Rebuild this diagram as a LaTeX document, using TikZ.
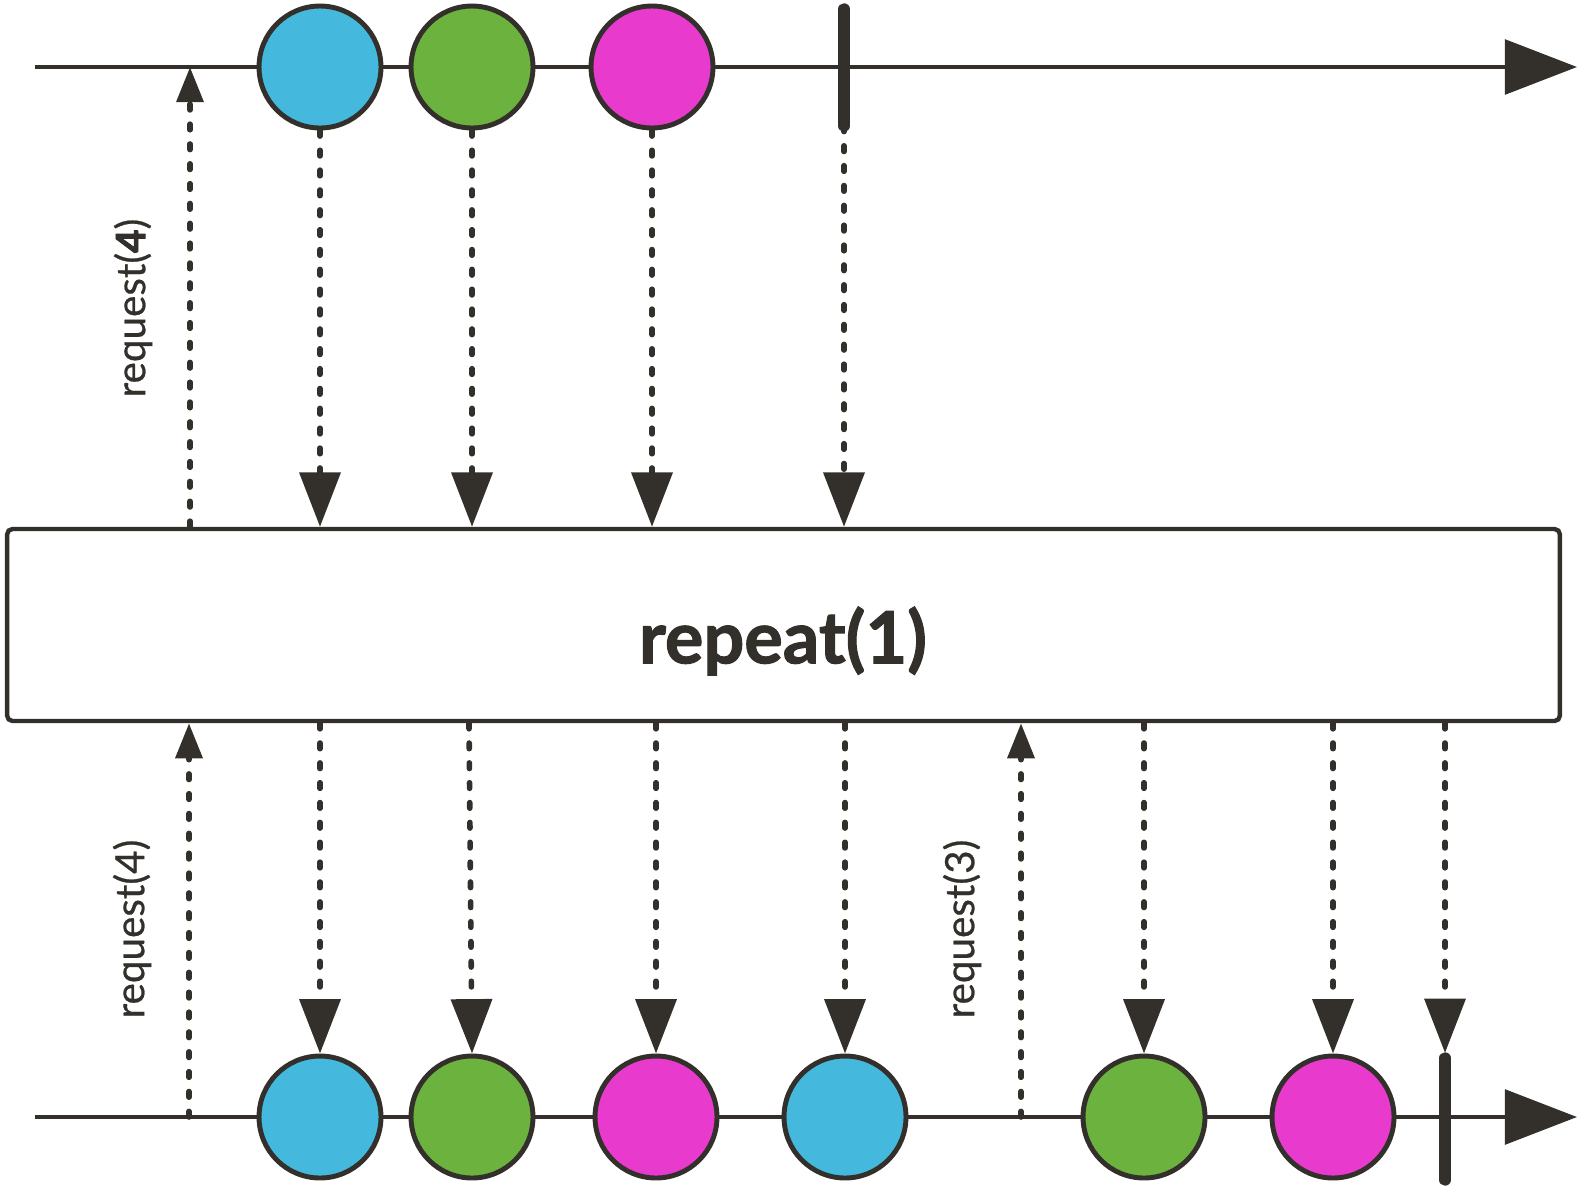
\documentclass[tikz,border=0pt]{standalone}
\usepackage{fontspec}
\setmainfont{Lato}
\usetikzlibrary{arrows.meta}
\definecolor{ink}{HTML}{33302C}
\definecolor{mblue}{HTML}{44B8DD}
\definecolor{mgreen}{HTML}{6BB23F}
\definecolor{mmag}{HTML}{E83ACD}
\tikzset{
  timeline/.style={draw=ink, line width=2.5pt, -{Triangle[length=41pt,width=31pt]}},
  marble/.style={circle, draw=ink, line width=2.8pt, minimum size=2.44cm, inner sep=0pt},
  endbar/.style={draw=ink, line width=6.5pt, line cap=round},
  dotline/.style={draw=ink, line width=3.2pt, line cap=round, dash pattern=on 3.2pt off 8.1pt},
  downarr/.style={dotline, -{Triangle[length=31pt,width=23pt]}},
  uparr/.style={dotline, -{Triangle[length=20pt,width=15pt]}},
  opbox/.style={draw=ink, line width=2.5pt, rounded corners=3pt, fill=white, minimum width=31.06cm, minimum height=3.84cm, inner sep=0pt},
  rlabel/.style={text=ink, font=\fontsize{23}{27}\selectfont\addfontfeature{FakeBold=0.6}, rotate=90, inner sep=0pt}
}
\begin{document}
\begin{tikzpicture}[x=0.02cm, y=-0.02cm]
\useasboundingbox (0,0) rectangle (1588,1187);
% top timeline
\coordinate (ts) at (35,67);
\coordinate (te) at (1577,67);
\draw[timeline] (ts) -- (te);
\node[marble, fill=mblue] (t1) at (320,67) {};
\node[marble, fill=mgreen] (t2) at (472,67) {};
\node[marble, fill=mmag] (t3) at (652,67) {};
\coordinate (tbt) at (844,9);
\coordinate (tbb) at (844,126);
\draw[endbar] (tbt) -- (tbb);
% operator box
\node[opbox] (box) at (783.5,625) {};
\node[text=ink, font=\fontsize{41}{46}\selectfont\bfseries\addfontfeature{FakeBold=1.5}] (op) at (783,641) {repeat(1)};
% top request
\coordinate (tr) at (190,67);
\draw[uparr] (box.north -| tr) -- (tr);
\node[rlabel] (l1) at (133,308) {request({\bfseries\addfontfeature{FakeBold=2}4})};
% top down arrows
\draw[downarr] (t1.south) -- (t1.south |- box.north);
\draw[downarr] (t2.south) -- (t2.south |- box.north);
\draw[downarr] (t3.south) -- (t3.south |- box.north);
\draw[downarr] (tbb) -- (tbb |- box.north);
% bottom timeline
\coordinate (bs) at (35,1117);
\coordinate (be) at (1577,1117);
\draw[timeline] (bs) -- (be);
\node[marble, fill=mblue] (b1) at (320,1117) {};
\node[marble, fill=mgreen] (b2) at (472,1117) {};
\node[marble, fill=mmag] (b3) at (656,1117) {};
\node[marble, fill=mblue] (b4) at (845,1117) {};
\node[marble, fill=mgreen] (b5) at (1144,1117) {};
\node[marble, fill=mmag] (b6) at (1333,1117) {};
\coordinate (bbt) at (1445,1058);
\coordinate (bbb) at (1445,1180);
\draw[endbar] (bbt) -- (bbb);
% bottom requests
\coordinate (br1) at (189,1117);
\coordinate (br2) at (1021,1117);
\draw[uparr] (br1) -- (br1 |- box.south);
\draw[uparr] (br2) -- (br2 |- box.south);
\node[rlabel] (l2) at (132,929) {request(4)};
\node[rlabel] (l3) at (962,929) {request(3)};
% bottom down arrows
\draw[downarr] (b1.north |- box.south) -- (b1.north);
\draw[downarr] (box.south -| 469,0) -- (b2.north);
\draw[downarr] (b3.north |- box.south) -- (b3.north);
\draw[downarr] (b4.north |- box.south) -- (b4.north);
\draw[downarr] (b5.north |- box.south) -- (b5.north);
\draw[downarr] (b6.north |- box.south) -- (b6.north);
\draw[downarr] (bbt |- box.south) -- ([yshift=0.1cm]bbt);
\end{tikzpicture}
\end{document}
